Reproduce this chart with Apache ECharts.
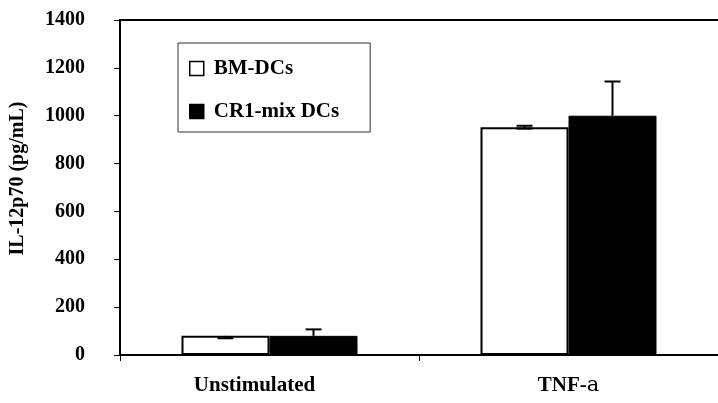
<!DOCTYPE html>
<html>
<head>
<meta charset="utf-8">
<script src="https://cdn.jsdelivr.net/npm/echarts@6/dist/echarts.min.js"></script>
<style>html,body{margin:0;padding:0;background:#fff;}#c{width:718px;height:403px;}</style>
</head>
<body>
<div id="c"></div>
<script>
var categories = ['Unstimulated', 'TNF-a'];
var seriesNames = ['BM-DCs', 'CR1-mix DCs'];
var bmValues = [80, 952];
var crValues = [80, 1000];
var bmErrLow = [70, 946];
var bmErrHigh = [80, 958];
var crErrLow = [80, 1000];
var crErrHigh = [107, 1143];
var yTicks = [0, 200, 400, 600, 800, 1000, 1200, 1400];

var FONT = '"Liberation Serif", "Times New Roman", serif';
var BAR_W = 88;

function errData(vals, lo, hi) {
  return vals.map(function (v, i) { return [i, v, lo[i], hi[i]]; });
}
function errSeries(name, data, side) {
  return {
    type: 'custom', name: name, z: 10, silent: true,
    data: data,
    renderItem: function (params, api) {
      var idx = api.value(0), v = api.value(1), lo = api.value(2), hi = api.value(3);
      var off = side * BAR_W / 2;
      var pv = api.coord([idx, v]), pl = api.coord([idx, lo]), ph = api.coord([idx, hi]);
      var x = pv[0] + off, cw = 8;
      var children = [];
      var st = { stroke: '#000', lineWidth: 2 };
      if (hi > v) {
        children.push({ type: 'line', shape: { x1: x, y1: pv[1], x2: x, y2: ph[1] }, style: st });
        children.push({ type: 'line', shape: { x1: x - cw, y1: ph[1], x2: x + cw, y2: ph[1] }, style: st });
      }
      if (lo < v) {
        children.push({ type: 'line', shape: { x1: x, y1: pv[1], x2: x, y2: pl[1] }, style: st });
        children.push({ type: 'line', shape: { x1: x - cw, y1: pl[1], x2: x + cw, y2: pl[1] }, style: st });
      }
      return { type: 'group', children: children };
    }
  };
}

var chart = echarts.init(document.getElementById('c'), null, { renderer: 'canvas' });
chart.setOption({
  animation: false,
  backgroundColor: '#fff',
  textStyle: { fontFamily: FONT },
  grid: { left: 118, top: 20, width: 608, height: 335, containLabel: false },
  legend: {
    data: seriesNames,
    orient: 'vertical',
    left: 178, top: 43,
    padding: [15, 31, 10, 11],
    itemGap: 22,
    itemWidth: 14, itemHeight: 14,
    icon: 'rect',
    borderColor: '#333', borderWidth: 1,
    backgroundColor: '#fff',
    textStyle: { fontFamily: FONT, fontWeight: 'bold', fontSize: 21, color: '#000', lineHeight: 20, padding: [0, 0, 0, 5] },
    itemStyle: { borderColor: '#000', borderWidth: 1.5 }
  },
  xAxis: [{
    type: 'category',
    data: categories,
    axisLine: { lineStyle: { color: '#000', width: 2 } },
    axisTick: { show: true, alignWithLabel: false, length: 6, lineStyle: { color: '#000', width: 1 } },
    axisLabel: {
      margin: 20,
      formatter: function (v) {
        if (v === 'TNF-a') return '{b|TNF-}{n|a}';
        return '{u|' + v + '}';
      },
      rich: {
        u: { fontFamily: FONT, fontWeight: 'bold', fontSize: 21, color: '#000', padding: [0, 30, 0, 0] },
        b: { fontFamily: FONT, fontWeight: 'bold', fontSize: 21, color: '#000' },
        n: { fontFamily: '"DejaVu Serif", serif', fontWeight: 'normal', fontSize: 21, color: '#000' }
      }
    }
  }, {
    type: 'category',
    position: 'top',
    data: categories,
    axisLine: { show: true, lineStyle: { color: '#000', width: 2 } },
    axisTick: { show: false },
    axisLabel: { show: false }
  }],
  yAxis: {
    type: 'value',
    min: 0, max: 1400, interval: 200,
    name: 'IL-12p70 (pg/mL)',
    nameLocation: 'middle',
    nameGap: 92,
    nameTextStyle: { fontFamily: FONT, fontWeight: 'bold', fontSize: 20, color: '#000', padding: [0, 0, 0, 18] },
    axisLine: { show: true, lineStyle: { color: '#000', width: 2 } },
    axisTick: { show: true, length: 6, lineStyle: { color: '#000', width: 1 } },
    splitLine: { show: false },
    axisLabel: {
      margin: 35,
      fontFamily: FONT, fontWeight: 'bold', fontSize: 20, color: '#000',
      formatter: function (v) { return yTicks.indexOf(v) >= 0 ? String(v) : ''; }
    }
  },
  series: [
    {
      name: seriesNames[0], type: 'bar', data: bmValues, barWidth: BAR_W, barGap: '0%',
      itemStyle: { color: '#fff', borderColor: '#000', borderWidth: 2 }
    },
    {
      name: seriesNames[1], type: 'bar', data: crValues, barWidth: BAR_W, barGap: '0%',
      itemStyle: { color: '#000', borderColor: '#000', borderWidth: 1 }
    },
    errSeries('err-bm', errData(bmValues, bmErrLow, bmErrHigh), -1),
    errSeries('err-cr', errData(crValues, crErrLow, crErrHigh), 1)
  ]
});
</script>
</body>
</html>
